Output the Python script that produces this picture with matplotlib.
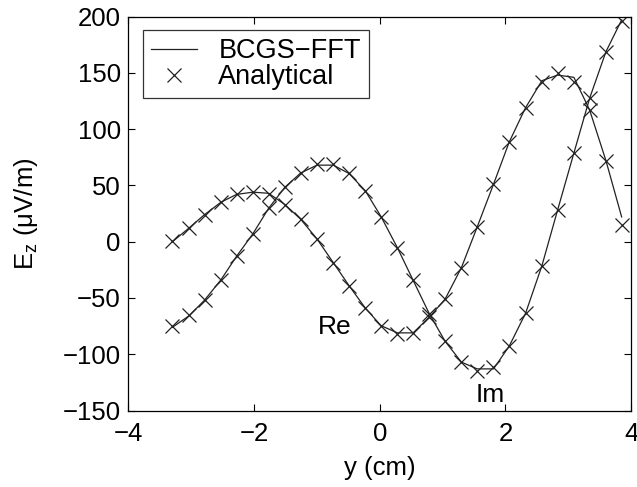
import matplotlib
matplotlib.use("Agg")
import matplotlib.pyplot as plt

plt.rcParams['font.family'] = ['Liberation Sans', 'DejaVu Sans']
plt.rcParams['mathtext.fontset'] = 'custom'
plt.rcParams['mathtext.rm'] = 'Liberation Sans'

# sample positions along y (cm)
y_cm = [-3.30, -3.04, -2.79, -2.53, -2.28, -2.02, -1.77, -1.51, -1.26, -1.00,
        -0.74, -0.49, -0.23, 0.02, 0.28, 0.53, 0.79, 1.04, 1.30, 1.55,
        1.81, 2.06, 2.32, 2.58, 2.83, 3.09, 3.34, 3.60, 3.85]

# analytical values (markers)
re_ana = [1, 12, 24, 35, 42, 44.5, 42.5, 33, 20, 2.5,
          -18.6, -39, -59, -74.6, -82, -81, -67, -51, -23, 13,
          51, 88.5, 119, 141.6, 150, 142, 117, 72, 15]
im_ana = [-75, -65, -52, -34, -13, 7, 29.6, 48.4, 61, 68.7,
          68.8, 60.6, 45.2, 22.3, -5.3, -34.2, -64.2, -88.5, -107, -115,
          -111, -92.8, -63.7, -21.5, 28, 78.8, 127.4, 168.8, 196]

# BCGS-FFT values (line)
re_fft = [0, 12, 24, 35, 42, 44, 43, 33, 20, 2.5,
          -18.6, -39, -59, -74.6, -81, -81, -67, -51, -23, 13,
          51, 88.5, 119, 143, 148, 146, 117, 72, 22]
im_fft = [-76, -66, -52, -34, -13, 7, 29.6, 48.4, 61, 68,
          68, 60.6, 45.2, 22.3, -5.3, -34.2, -64.2, -88.5, -107, -113,
          -113, -92.8, -63.7, -21.5, 28, 78.8, 127.4, 168.8, 197]

fig = plt.figure(figsize=(6.37, 4.87), dpi=100)
ax = fig.add_axes([0.2017, 0.157, 0.789, 0.809])

ax.plot(y_cm, re_fft, '-', color='#222222', lw=0.9, label='BCGS\u2212FFT')
ax.plot(y_cm, im_fft, '-', color='#222222', lw=0.9)
ax.plot(y_cm, re_ana, 'x', color='#222222', ms=9.5, mew=0.9, label='Analytical')
ax.plot(y_cm, im_ana, 'x', color='#222222', ms=9.5, mew=0.9)

ax.text(-0.72, -75.5, 'Re', fontsize=19, ha='center', va='center')
ax.text(1.76, -136, 'Im', fontsize=19, ha='center', va='center')

ax.set_xlim(-4, 4)
ax.set_ylim(-150, 200)
ax.set_xticks([-4, -2, 0, 2, 4])
ax.set_yticks([-150, -100, -50, 0, 50, 100, 150, 200])
ax.set_xticklabels(['\u22124', '\u22122', '0', '2', '4'])
ax.set_yticklabels(['\u2212150', '\u2212100', '\u221250', '0', '50', '100', '150', '200'])
ax.tick_params(direction='in', top=True, right=True, length=5, labelsize=18.5)
ax.tick_params(axis='x', pad=8.5)
ax.tick_params(axis='y', pad=5.5)
for s in ax.spines.values():
    s.set_linewidth(0.9)

ax.set_xlabel('y (cm)', fontsize=18.5, labelpad=7)
ax.set_ylabel('E$_\\mathrm{z}$ (\u03bcV/m)', fontsize=18.5, labelpad=16)

leg = ax.legend(loc='upper left', bbox_to_anchor=(0.028, 0.966), fontsize=19.5,
                frameon=True, fancybox=False, edgecolor='black', handlelength=1.7,
                handletextpad=0.8, borderpad=0.3, labelspacing=0.0, borderaxespad=0)
leg.get_frame().set_linewidth(0.9)

fig.savefig('out.png', dpi=100)
